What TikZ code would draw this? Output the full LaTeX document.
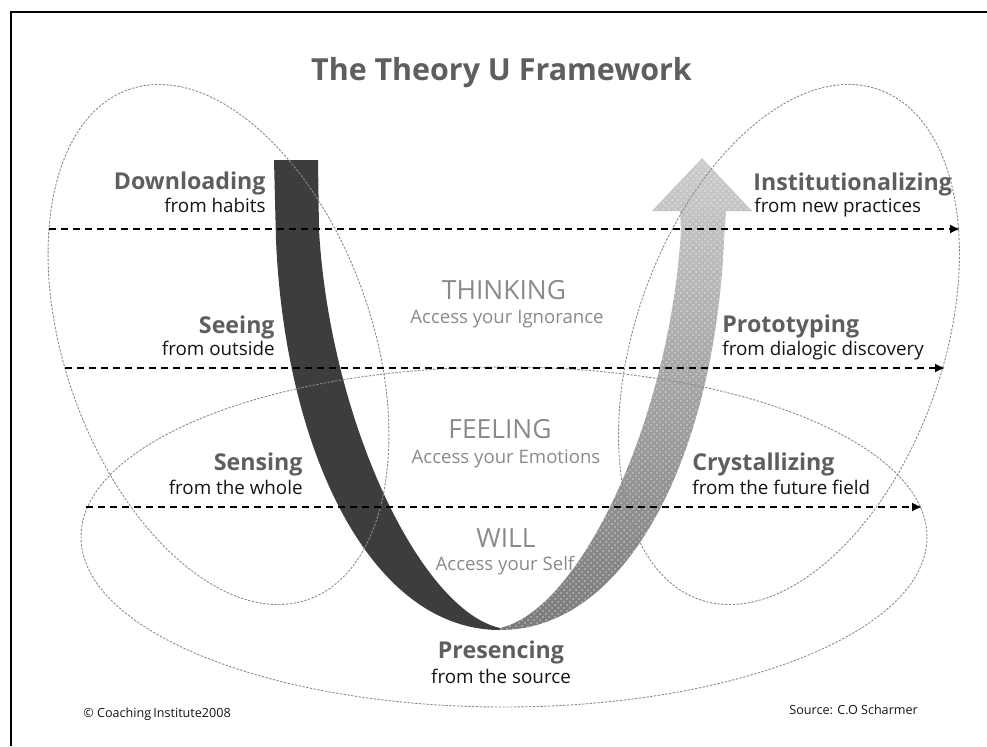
\documentclass[tikz,border=0pt]{standalone}
\usepackage{fontspec}
\setmainfont{Open Sans}
\usetikzlibrary{arrows.meta,patterns}
\definecolor{labc}{HTML}{5E5E5E}
\definecolor{lgrayc}{HTML}{8A8A8A}
\definecolor{ubarc}{HTML}{3D3D3D}
\definecolor{ellc}{HTML}{8C8C8C}
\definecolor{subc}{HTML}{141414}
\tikzset{
  titlelab/.style={font=\fontsize{15.2}{18}\selectfont\bfseries, text=labc, inner sep=0pt},
  boldlab/.style={font=\fontsize{11.6}{14}\selectfont\bfseries, text=labc, inner sep=0pt},
  sublab/.style={font=\fontsize{9.4}{11}\selectfont, text=subc, inner sep=0pt},
  capslab/.style={font=\fontsize{13.2}{15}\selectfont, text=lgrayc, inner sep=0pt},
  capssub/.style={font=\fontsize{9.3}{11}\selectfont, text=lgrayc, inner sep=0pt},
  footlab/.style={font=\fontsize{6.3}{8}\selectfont, text=subc, inner sep=0pt},
  ellline/.style={draw=ellc, line width=0.45pt, dash pattern=on 1.2pt off 0.7pt},
  dasharrow/.style={draw=black, line width=0.85pt, dash pattern=on 3.7pt off 2.3pt, -{Latex[length=5pt,width=4.5pt]}},
}
\begin{document}
\begin{tikzpicture}[x=0.5pt,y=-0.5pt]
\useasboundingbox (0,0) rectangle (987,746);
% frame
\draw[line width=1.2pt] (11,746) -- (11,12) -- (987,12);

% light (rising) band with arrow head
\path[top color=black!20, bottom color=black!52,
      postaction={pattern=crosshatch dots, pattern color=white, fill opacity=0.45}]
  (702,158) -- (752,211) -- (726,211) -- (724,240)
  .. controls (715,450) and (630,630) .. (500,630)
  -- (500,628) .. controls (580,610) and (670,420) .. (681,230)
  -- (680,211) -- (652,211) -- cycle;

% dark (descending) band
\fill[ubarc] (274,160) -- (276,240)
  .. controls (285,450) and (370,630) .. (500,630)
  -- (500,628) .. controls (420,610) and (330,420) .. (319,230)
  -- (318,160) -- cycle;

% ellipses
\draw[ellline, rotate around={109.4:(218.5,344.5)}] (218.5,344.5) ellipse [x radius=270.3, y radius=153.6];
\draw[ellline, rotate around={70.6:(789,344.5)}] (789,344.5) ellipse [x radius=270.3, y radius=153.6];
\draw[ellline] (504,537) ellipse [x radius=423, y radius=170];

% dashed arrows
\coordinate (l1a) at (49,229);  \coordinate (l1b) at (960,229);
\coordinate (l2a) at (65,368);  \coordinate (l2b) at (945,368);
\coordinate (l3a) at (86,507);  \coordinate (l3b) at (922,507);
\draw[dasharrow] (l1a) -- (l1b);
\draw[dasharrow] (l2a) -- (l2b);
\draw[dasharrow] (l3a) -- (l3b);

% title
\node[titlelab, anchor=base] (title) at (501.5,80) {The Theory U Framework};

% left labels
\node[boldlab, anchor=base east] (dl) at (266,189) {Downloading};
\node[sublab, anchor=base east] (dls) at (266,212) {from habits};
\node[boldlab, anchor=base east] (se) at (275,333) {Seeing};
\node[sublab, anchor=base east] (ses) at (275,355) {from outside};
\node[boldlab, anchor=base east] (sn) at (303,470) {Sensing};
\node[sublab, anchor=base east] (sns) at (303,494) {from the whole};

% bottom
\node[boldlab, anchor=base] (pr) at (501,658) {Presencing};
\node[sublab, anchor=base] (prs) at (501,683) {from the source};

% right labels
\node[boldlab, anchor=base west] (in) at (753,190) {Institutionalizing};
\node[sublab, anchor=base west] (ins) at (754,212) {from new practices};
\node[boldlab, anchor=base west] (pt) at (722,332) {Prototyping};
\node[sublab, anchor=base west] (pts) at (722,355) {from dialogic discovery};
\node[boldlab, anchor=base west] (cr) at (692,470) {Crystallizing};
\node[sublab, anchor=base west] (crs) at (692,494) {from the future field};

% centre labels
\node[capslab, anchor=base] (th) at (504,299) {THINKING};
\node[capssub, anchor=base] (ths) at (507,323) {Access your Ignorance};
\node[capslab, anchor=base] (fe) at (500,438) {FEELING};
\node[capssub, anchor=base] (fes) at (506,463) {Access your Emotions};
\node[capslab, anchor=base] (wi) at (506,547) {WILL};
\node[capssub, anchor=base] (wis) at (505,570) {Access your Self};

% footers
\node[footlab, anchor=base west] (copy) at (83,717) {© Coaching\,Institute2008};
\node[footlab, anchor=base west] (src) at (789,714) {Source: C.O Scharmer};
\end{tikzpicture}
\end{document}
